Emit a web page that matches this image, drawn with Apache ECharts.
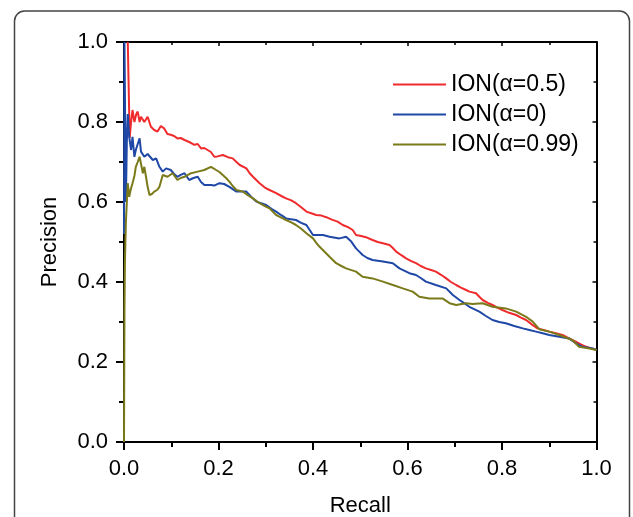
<!DOCTYPE html>
<html>
<head>
<meta charset="utf-8">
<script src="https://cdn.jsdelivr.net/npm/echarts@6/dist/echarts.min.js"></script>
<style>html,body{margin:0;padding:0;background:#fff;}#c{width:633px;height:517px;}</style>
</head>
<body>
<div id="c"></div>
<script>
const seriesNames = ['ION(\u03b1=0.5)', 'ION(\u03b1=0)', 'ION(\u03b1=0.99)'];
const axisTicks = [0.0, 0.2, 0.4, 0.6, 0.8, 1.0];

const redPoints = [[0.008,1.0],[0.011,1.0],[0.012,0.76],[0.015,0.80],[0.018,0.83],[0.022,0.80],[0.026,0.82],[0.029,0.826],[0.033,0.80],[0.036,0.813],[0.043,0.80],[0.05,0.813],[0.057,0.788],[0.064,0.78],[0.071,0.776],[0.078,0.79],[0.085,0.784],[0.092,0.77],[0.099,0.768],[0.106,0.765],[0.113,0.759],[0.12,0.76],[0.128,0.755],[0.138,0.75],[0.149,0.743],[0.156,0.745],[0.163,0.734],[0.17,0.735],[0.177,0.73],[0.184,0.725],[0.191,0.713],[0.198,0.714],[0.209,0.7175],[0.22,0.712],[0.23,0.709],[0.238,0.70],[0.245,0.6925],[0.259,0.684],[0.266,0.672],[0.273,0.663],[0.287,0.647],[0.298,0.636],[0.308,0.63],[0.322,0.622],[0.333,0.615],[0.343,0.609],[0.354,0.604],[0.364,0.597],[0.375,0.587],[0.386,0.576],[0.396,0.572],[0.407,0.5675],[0.418,0.566],[0.428,0.562],[0.44,0.556],[0.452,0.551],[0.463,0.5425],[0.474,0.537],[0.484,0.53],[0.491,0.5175],[0.502,0.515],[0.512,0.512],[0.526,0.505],[0.537,0.50],[0.548,0.497],[0.562,0.4925],[0.569,0.485],[0.576,0.476],[0.587,0.467],[0.597,0.459],[0.608,0.452],[0.618,0.447],[0.628,0.44],[0.639,0.434],[0.65,0.43],[0.66,0.426],[0.671,0.418],[0.682,0.409],[0.692,0.40],[0.703,0.3925],[0.713,0.386],[0.724,0.38],[0.731,0.376],[0.745,0.372],[0.752,0.363],[0.759,0.355],[0.77,0.348],[0.78,0.3425],[0.79,0.336],[0.801,0.33],[0.815,0.323],[0.83,0.3175],[0.84,0.311],[0.851,0.305],[0.863,0.294],[0.875,0.284],[0.888,0.28],[0.9,0.276],[0.914,0.272],[0.928,0.2675],[0.942,0.259],[0.956,0.251],[0.967,0.244],[0.978,0.238],[0.99,0.234],[1.0,0.23]];

const bluePoints = [[0.0,0.52],[0.001,1.0],[0.003,1.0],[0.004,0.60],[0.006,0.75],[0.008,0.82],[0.011,0.763],[0.015,0.73],[0.018,0.763],[0.022,0.713],[0.025,0.73],[0.029,0.745],[0.033,0.759],[0.036,0.726],[0.043,0.713],[0.05,0.72],[0.054,0.72],[0.061,0.705],[0.068,0.709],[0.075,0.688],[0.082,0.676],[0.089,0.684],[0.099,0.68],[0.106,0.67],[0.113,0.663],[0.12,0.668],[0.128,0.672],[0.138,0.655],[0.147,0.66],[0.156,0.663],[0.163,0.65],[0.17,0.6425],[0.184,0.6425],[0.191,0.641],[0.202,0.647],[0.212,0.645],[0.223,0.638],[0.238,0.626],[0.259,0.626],[0.27,0.612],[0.28,0.601],[0.29,0.597],[0.301,0.5925],[0.312,0.583],[0.322,0.576],[0.333,0.567],[0.343,0.559],[0.364,0.555],[0.375,0.548],[0.386,0.5425],[0.393,0.53],[0.4,0.5175],[0.421,0.5175],[0.435,0.513],[0.456,0.509],[0.47,0.513],[0.481,0.501],[0.491,0.484],[0.498,0.476],[0.505,0.4675],[0.515,0.46],[0.526,0.455],[0.548,0.451],[0.569,0.447],[0.583,0.434],[0.594,0.428],[0.604,0.422],[0.618,0.4175],[0.628,0.41],[0.639,0.401],[0.66,0.3925],[0.682,0.384],[0.696,0.3675],[0.71,0.355],[0.72,0.347],[0.731,0.338],[0.752,0.326],[0.766,0.315],[0.78,0.305],[0.794,0.30],[0.808,0.297],[0.826,0.29],[0.844,0.284],[0.858,0.28],[0.872,0.276],[0.886,0.272],[0.9,0.2675],[0.921,0.263],[0.942,0.259],[0.956,0.247],[0.97,0.238],[0.992,0.234],[1.0,0.23]];

const olivePoints = [[0.0,0.0],[0.001,0.33],[0.002,0.45],[0.004,0.55],[0.006,0.60],[0.008,0.647],[0.011,0.613],[0.014,0.63],[0.018,0.647],[0.022,0.665],[0.025,0.688],[0.029,0.70],[0.033,0.713],[0.036,0.713],[0.04,0.672],[0.043,0.688],[0.047,0.66],[0.05,0.638],[0.054,0.6175],[0.059,0.62],[0.064,0.626],[0.07,0.63],[0.075,0.638],[0.082,0.6675],[0.092,0.663],[0.103,0.672],[0.113,0.655],[0.12,0.66],[0.128,0.663],[0.142,0.672],[0.156,0.676],[0.17,0.68],[0.184,0.688],[0.195,0.68],[0.202,0.675],[0.209,0.6675],[0.216,0.66],[0.223,0.651],[0.23,0.64],[0.238,0.63],[0.252,0.626],[0.262,0.617],[0.273,0.609],[0.287,0.597],[0.298,0.59],[0.308,0.584],[0.322,0.5675],[0.333,0.561],[0.343,0.555],[0.354,0.549],[0.364,0.5425],[0.375,0.533],[0.386,0.522],[0.4,0.509],[0.407,0.498],[0.414,0.488],[0.425,0.475],[0.435,0.463],[0.449,0.447],[0.46,0.44],[0.47,0.434],[0.491,0.426],[0.505,0.413],[0.526,0.409],[0.548,0.401],[0.569,0.3925],[0.59,0.384],[0.611,0.376],[0.625,0.363],[0.646,0.359],[0.674,0.359],[0.689,0.347],[0.703,0.3425],[0.724,0.347],[0.738,0.345],[0.759,0.347],[0.78,0.338],[0.808,0.334],[0.83,0.326],[0.851,0.313],[0.865,0.301],[0.879,0.282],[0.9,0.276],[0.921,0.2675],[0.949,0.255],[0.963,0.238],[0.985,0.234],[1.0,0.23]];

const colors = ['#ef2b2d', '#1f48a6', '#7a7a1a'];
const FONT = "'Liberation Sans', Arial, Helvetica, sans-serif";

const chart = echarts.init(document.getElementById('c'), null, {renderer: 'canvas'});

function mainAxis(pos, name, gap, margin) {
  return {
    type: 'value', position: pos, min: axisTicks[0], max: axisTicks[axisTicks.length - 1], interval: 0.2,
    name: name, nameLocation: 'middle', nameGap: gap,
    nameTextStyle: {fontFamily: FONT, fontSize: 22, color: '#000'},
    axisLine: {show: true, onZero: false, lineStyle: {color: '#000', width: 2}},
    axisTick: {show: true, inside: false, length: 8, lineStyle: {color: '#000', width: 2}},
    minorTick: {show: true, splitNumber: 2, length: 5, lineStyle: {color: '#000', width: 2}},
    axisLabel: {show: true, margin: margin, fontFamily: FONT, fontSize: 22, color: '#000',
      formatter: v => v.toFixed(1)},
    splitLine: {show: false}, minorSplitLine: {show: false}
  };
}
function sideAxis(pos) {
  return {
    type: 'value', position: pos, min: axisTicks[0], max: axisTicks[axisTicks.length - 1], interval: 0.2,
    axisLine: {show: true, onZero: false, lineStyle: {color: '#000', width: 2}},
    axisTick: {show: true, inside: true, length: 4, lineStyle: {color: '#000', width: 1.5}},
    minorTick: {show: true, splitNumber: 2, length: 3, lineStyle: {color: '#000', width: 1.5}},
    axisLabel: {show: false}, splitLine: {show: false}
  };
}

const pointSets = [redPoints, bluePoints, olivePoints];

chart.setOption({
  animation: false,
  backgroundColor: '#fff',
  grid: {left: 124, right: 36.5, top: 42, bottom: 75, containLabel: false, outerBoundsMode: 'none'},
  xAxis: [mainAxis('bottom', 'Recall', 53, 16), sideAxis('top')],
  yAxis: [mainAxis('left', 'Precision', 63, 16), sideAxis('right')],
  legend: {
    orient: 'vertical', left: 388, top: 68, icon: 'rect', itemWidth: 53, itemHeight: 2,
    itemGap: 7,
    textStyle: {fontFamily: FONT, fontSize: 23, color: '#000', lineHeight: 23},
    data: seriesNames
  },
  series: seriesNames.map((n, i) => ({
    name: n, type: 'line', xAxisIndex: 0, yAxisIndex: 0,
    data: pointSets[i], showSymbol: false, symbol: 'none',
    lineStyle: {color: colors[i], width: 2}, itemStyle: {color: colors[i]},
    clip: true
  })),
  graphic: [{
    type: 'rect', silent: true, z: -10,
    shape: {x: 14.5, y: 11, width: 615, height: 560, r: 10},
    style: {fill: 'none', stroke: '#444', lineWidth: 1.5}
  }]
});
</script>
</body>
</html>
